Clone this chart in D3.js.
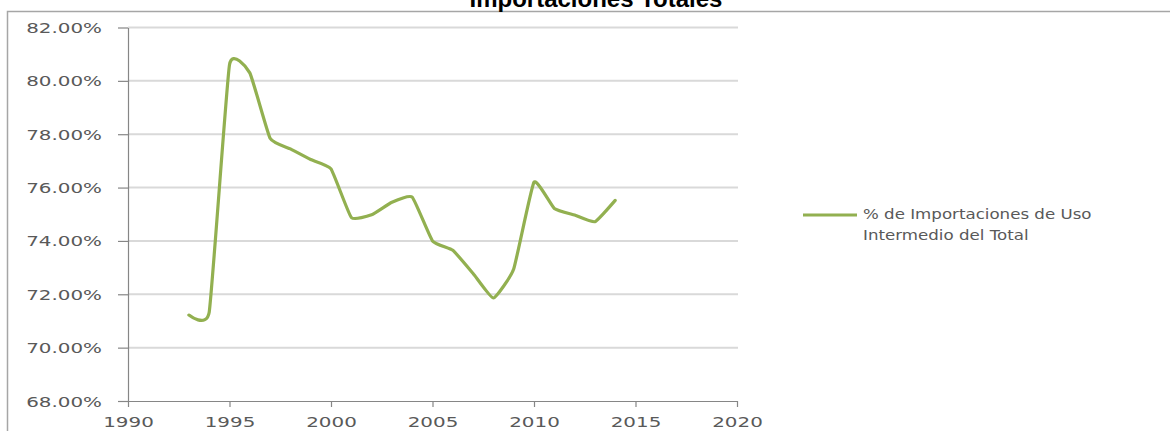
<!DOCTYPE html>
<html>
<head>
<meta charset="utf-8">
<script src="https://cdn.jsdelivr.net/npm/d3@7"></script>
<style>
  html, body { margin: 0; padding: 0; background: #fff; }
  svg { display: block; }
</style>
</head>
<body>
<svg id="chart" width="1170" height="431"></svg>
<script>
const years = [1993, 1994, 1995, 1996, 1997, 1998, 1999, 2000, 2001, 2002, 2003, 2004, 2005, 2006, 2007, 2008, 2009, 2010, 2011, 2012, 2013, 2014];
const shareValues = [71.22, 71.33, 80.6, 80.3, 77.85, 77.45, 77.05, 76.7, 74.88, 74.98, 75.45, 75.64, 74.0, 73.65, 72.78, 71.86, 72.95, 76.2, 75.22, 74.97, 74.72, 75.52];
const yTicks = [68, 70, 72, 74, 76, 78, 80, 82];
const xTicks = [1990, 1995, 2000, 2005, 2010, 2015, 2020];
const titleText = "Importaciones Totales";
const legendLines = ["% de Importaciones de Uso", "Intermedio del Total"];

const svg = d3.select("#chart");
const STRETCH = 1.42;
const textColor = "#595959";
const font = "'DejaVu Sans', Verdana, sans-serif";

// outer frame
svg.append("path")
  .attr("d", "M7.5,440 L7.5,11.5 L1175,11.5")
  .attr("fill", "none").attr("stroke", "#a6a6a6").attr("stroke-width", 1.5);

// title (clipped at top)
svg.append("text")
  .attr("x", 596).attr("y", 7)
  .attr("text-anchor", "middle")
  .attr("font-family", "'Liberation Sans', Arial, sans-serif")
  .attr("font-weight", "bold")
  .attr("font-size", 24)
  .attr("fill", "#000")
  .text(titleText);

const x = d3.scaleLinear().domain([1990, 2020]).range([128, 737]);
const y = d3.scaleLinear().domain([68, 82]).range([401, 27.5]);

// gridlines
svg.append("g").selectAll("line")
  .data(yTicks.filter(d => d > 68))
  .join("line")
  .attr("x1", x(1990)).attr("x2", 738)
  .attr("y1", d => y(d)).attr("y2", d => y(d))
  .attr("stroke", "#d9d9d9").attr("stroke-width", 2);

// y axis
const yAxis = svg.append("g")
  .attr("transform", `translate(${x(1990)},0)`)
  .call(d3.axisLeft(y).tickValues(yTicks).tickSize(10).tickSizeOuter(0).tickFormat(d => d.toFixed(2) + "%"));
yAxis.select(".domain").attr("stroke", "#868686").attr("stroke-width", 1.2);
yAxis.selectAll(".tick line").attr("stroke", "#868686").attr("stroke-width", 1.2);
yAxis.selectAll(".tick text")
  .attr("x", 0).attr("dy", null).attr("y", 5)
  .attr("transform", `translate(-26,0) scale(${STRETCH},1)`)
  .attr("font-family", font).attr("font-size", 14)
  .attr("fill", textColor).attr("text-anchor", "end");

// x axis
const xAxis = svg.append("g")
  .attr("transform", `translate(0,${y(68)})`)
  .call(d3.axisBottom(x).tickValues(xTicks).tickSize(6).tickSizeOuter(0).tickFormat(d3.format("d")));
xAxis.select(".domain").attr("stroke", "#868686").attr("stroke-width", 1.2);
xAxis.selectAll(".tick line").attr("stroke", "#868686").attr("stroke-width", 1.2);
xAxis.selectAll(".tick text")
  .attr("y", 0).attr("dy", null)
  .attr("transform", `translate(0,26) scale(${STRETCH},1)`)
  .attr("font-family", font).attr("font-size", 14)
  .attr("fill", textColor).attr("text-anchor", "middle");

// line
const data = years.map((yr, i) => ({ yr, v: shareValues[i] }));
const line = d3.line()
  .x(d => x(d.yr)).y(d => y(d.v))
  .curve(d3.curveCardinal.tension(0.6));
svg.append("path")
  .datum(data)
  .attr("d", line)
  .attr("fill", "none")
  .attr("stroke", "#92b050")
  .attr("stroke-width", 3.2)
  .attr("stroke-linejoin", "round")
  .attr("stroke-linecap", "round");

// legend
const lg = svg.append("g");
lg.append("line")
  .attr("x1", 803).attr("x2", 857).attr("y1", 215).attr("y2", 215)
  .attr("stroke", "#92b050").attr("stroke-width", 3);
lg.selectAll("text")
  .data(legendLines)
  .join("text")
  .attr("transform", (d, i) => `translate(863,${219 + i * 21}) scale(1.19,1)`)
  .attr("font-family", font).attr("font-size", 14)
  .attr("fill", textColor)
  .text(d => d);
</script>
</body>
</html>
